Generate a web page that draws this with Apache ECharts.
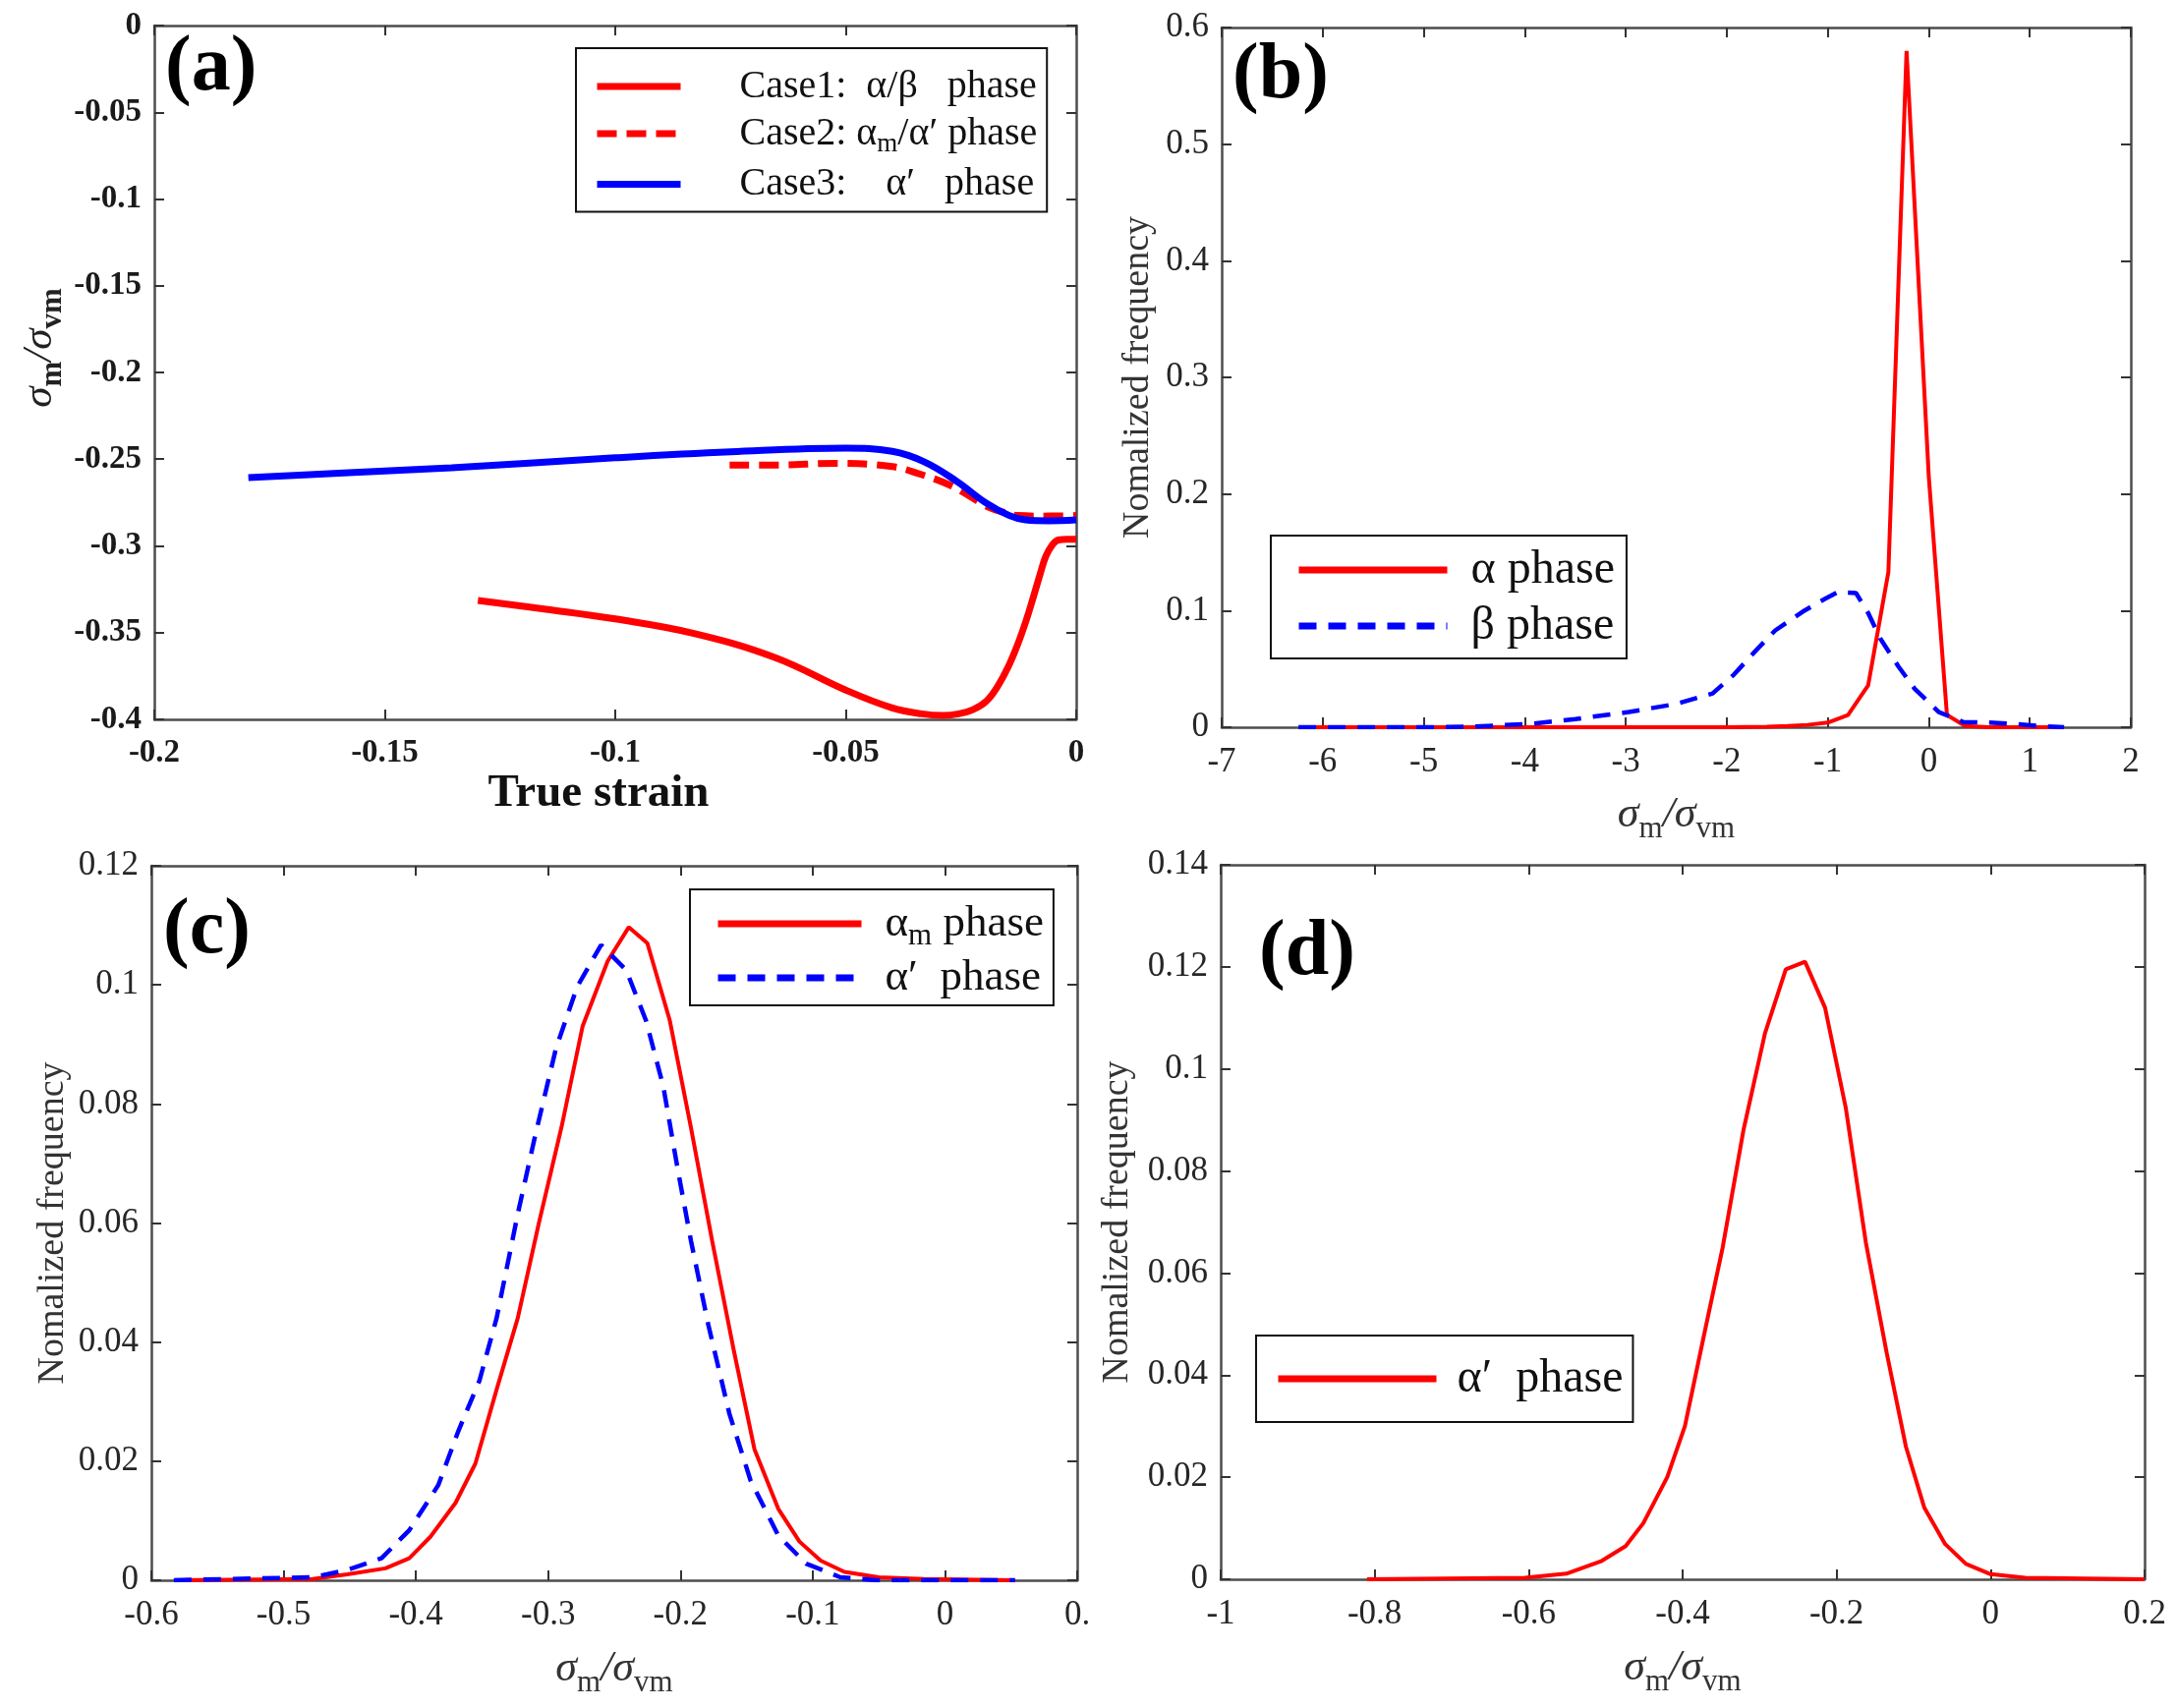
<!DOCTYPE html>
<html>
<head>
<meta charset="utf-8">
<script src="https://cdn.jsdelivr.net/npm/echarts@6/dist/echarts.min.js"></script>
<style>
  html, body { margin: 0; padding: 0; background: #fff; }
  #main { width: 2215px; height: 1738px; }
</style>
</head>
<body>
<div id="main"></div>
<script>
// ---- data ----
// (a) stress triaxiality vs true strain
var case1X = [-0.1298, -0.115, -0.1, -0.0829, -0.0654, -0.05, -0.0399, -0.0335, -0.0289, -0.0255, -0.0224, -0.0195, -0.0171, -0.0148, -0.0127, -0.0108, -0.0092, -0.0078, -0.0066, -0.0052, -0.0039, -0.002, 0];
var case1Y = [-0.3314, -0.3365, -0.3421, -0.3505, -0.3643, -0.3831, -0.3934, -0.3968, -0.3977, -0.3968, -0.3944, -0.3895, -0.3812, -0.3700, -0.3568, -0.3425, -0.3286, -0.3160, -0.306, -0.2995, -0.2966, -0.2962, -0.2962];
var case2X = [-0.0752, -0.0654, -0.0522, -0.0399, -0.034, -0.0276, -0.023, -0.0189, -0.0155, -0.0127, -0.008, 0];
var case2Y = [-0.2534, -0.2534, -0.2524, -0.2543, -0.2585, -0.2647, -0.2715, -0.2778, -0.2808, -0.2825, -0.2828, -0.2825];
var case3X = [-0.1796, -0.16, -0.1355, -0.1, -0.075, -0.05, -0.0399, -0.033, -0.0259, -0.0197, -0.0145, -0.011, -0.006, 0];
var case3Y = [-0.2606, -0.2581, -0.2549, -0.2492, -0.2458, -0.2436, -0.2455, -0.2515, -0.2628, -0.275, -0.2825, -0.285, -0.2855, -0.285];

// (b) alpha / beta distributions
var alphaBX = [-6.2, -5, -4, -3, -2, -1.6, -1.4, -1.2, -1.0, -0.8, -0.6, -0.4, -0.22, 0, 0.18, 0.36, 0.6, 0.8, 1.0, 1.3];
var alphaBY = [0, 0, 0, 0, 0, 0.0005, 0.001, 0.002, 0.004, 0.0105, 0.036, 0.133, 0.58, 0.215, 0.0105, 0.001, 0, 0, 0, 0];
var betaBX = [-6.24, -5, -4.5, -3.93, -3.5, -2.97, -2.5, -2.14, -1.93, -1.72, -1.52, -1.25, -1.03, -0.9, -0.72, -0.6, -0.48, -0.3, -0.14, 0.1, 0.34, 0.6, 0.83, 1.1, 1.34];
var betaBY = [0, 0, 0.0005, 0.003, 0.007, 0.013, 0.02, 0.029, 0.045, 0.065, 0.083, 0.099, 0.11, 0.116, 0.115, 0.098, 0.076, 0.052, 0.033, 0.013, 0.0045, 0.004, 0.003, 0.001, 0];

// (c) alpha_m / alpha' distributions
var alphaMX = [-0.583, -0.478, -0.452, -0.423, -0.405, -0.389, -0.370, -0.355, -0.339, -0.323, -0.307, -0.290, -0.274, -0.255, -0.239, -0.225, -0.208, -0.192, -0.176, -0.160, -0.144, -0.126, -0.110, -0.094, -0.076, -0.050, -0.016, 0.053];
var alphaMY = [0, 0.0002, 0.001, 0.002, 0.0037, 0.0073, 0.013, 0.0196, 0.032, 0.044, 0.060, 0.076, 0.093, 0.104, 0.1097, 0.107, 0.094, 0.076, 0.057, 0.039, 0.022, 0.012, 0.0065, 0.0033, 0.0014, 0.0005, 0.0002, 0];
var alphaPCX = [-0.583, -0.478, -0.452, -0.426, -0.405, -0.383, -0.368, -0.352, -0.339, -0.323, -0.310, -0.294, -0.278, -0.260, -0.241, -0.226, -0.213, -0.202, -0.192, -0.179, -0.163, -0.147, -0.126, -0.105, -0.079, -0.052, 0.053];
var alphaPCY = [0, 0.0005, 0.0017, 0.0037, 0.0084, 0.016, 0.025, 0.0335, 0.044, 0.0615, 0.0745, 0.0894, 0.0997, 0.1067, 0.1025, 0.094, 0.083, 0.069, 0.057, 0.043, 0.028, 0.0168, 0.0075, 0.0028, 0.0005, 0, 0];

// (d) alpha' distribution
var alphaPDX = [-0.810, -0.605, -0.551, -0.505, -0.474, -0.451, -0.420, -0.397, -0.372, -0.348, -0.321, -0.293, -0.266, -0.241, -0.215, -0.188, -0.162, -0.135, -0.110, -0.086, -0.059, -0.032, 0.0, 0.045, 0.2];
var alphaPDY = [0, 0.0003, 0.0011, 0.0036, 0.0065, 0.011, 0.020, 0.030, 0.048, 0.065, 0.088, 0.107, 0.1195, 0.121, 0.112, 0.0923, 0.066, 0.0444, 0.026, 0.014, 0.0069, 0.003, 0.001, 0.0003, 0];

function zip(xs, ys) {
    return xs.map(function (x, i) { return [x, ys[i]]; });
}

var FONT = 'Liberation Serif';
var RED = '#ff0000';
var BLUE = '#0000ff';

var grids = [
    { left: 157, top: 26, width: 938, height: 706 },
    { left: 1243, top: 28, width: 925, height: 712 },
    { left: 154, top: 881, width: 942, height: 727 },
    { left: 1242, top: 880, width: 940, height: 727 }
];

var axisLine = { show: true, onZero: false, lineStyle: { color: '#4d4d4d', width: 2.5 } };
var axisTick = { show: true, inside: true, length: 10, lineStyle: { color: '#333', width: 2 } };

var xAxes = [];
var yAxes = [];

function addAxes(g, xr, yr, bold, xName, yName, xGap, yGap, xFmt) {
    var lblStyle = {
        fontFamily: FONT,
        fontSize: bold ? 33 : 35,
        fontWeight: bold ? 'bold' : 'normal',
        color: bold ? '#1a1a1a' : '#262626'
    };
    xAxes.push({
        type: 'value', gridIndex: g, position: 'bottom',
        min: xr[0], max: xr[1], interval: xr[2],
        axisLine: axisLine, axisTick: axisTick, splitLine: { show: false },
        axisLabel: Object.assign({ margin: 18, showMinLabel: true, showMaxLabel: true, formatter: xFmt }, lblStyle),
        name: xName, nameLocation: 'middle', nameGap: xGap,
        nameTextStyle: bold
            ? { fontFamily: FONT, fontSize: 47, fontWeight: 'bold', color: '#111', padding: [0, 34, 0, 0] }
            : {
                fontFamily: FONT, color: '#333',
                rich: {
                    i: { fontFamily: FONT, fontStyle: 'italic', fontSize: 44, color: '#333' },
                    s: { fontFamily: FONT, fontSize: 31, color: '#333', padding: [28, 0, 0, 0] }
                }
            }
    });
    xAxes.push({
        type: 'value', gridIndex: g, position: 'top',
        min: xr[0], max: xr[1], interval: xr[2],
        axisLine: axisLine, axisTick: axisTick, splitLine: { show: false },
        axisLabel: { show: false }
    });
    yAxes.push({
        type: 'value', gridIndex: g, position: 'left',
        min: yr[0], max: yr[1], interval: yr[2],
        axisLine: axisLine, axisTick: axisTick, splitLine: { show: false },
        axisLabel: Object.assign({ margin: 13, showMinLabel: true, showMaxLabel: true }, lblStyle),
        name: yName, nameLocation: 'middle', nameGap: yGap, nameRotate: 90,
        nameTextStyle: bold
            ? {
                fontFamily: FONT, color: '#222', padding: [0, 0, 0, 50],
                rich: {
                    i: { fontFamily: FONT, fontStyle: 'italic', fontSize: 43, color: '#222' },
                    s: { fontFamily: FONT, fontSize: 31, fontWeight: 'bold', color: '#222', padding: [26, 0, 0, 0] }
                }
            }
            : { fontFamily: FONT, fontSize: 38, color: '#333' }
    });
    yAxes.push({
        type: 'value', gridIndex: g, position: 'right',
        min: yr[0], max: yr[1], interval: yr[2],
        axisLine: axisLine, axisTick: axisTick, splitLine: { show: false },
        axisLabel: { show: false }
    });
}

var sigmaName = '{i|σ}{s|m}{i|/σ}{s|vm}';
addAxes(0, [-0.2, 0, 0.05], [-0.4, 0, 0.05], true, 'True strain', sigmaName, 52, 88);
addAxes(1, [-7, 2, 1], [0, 0.6, 0.1], false, sigmaName, 'Nomalized frequency', 60, 66);
addAxes(2, [-0.6, 0.1, 0.1], [0, 0.12, 0.02], false, sigmaName, 'Nomalized frequency', 61, 81,
    function (v) { return Math.abs(v - 0.1) < 1e-9 ? '0.' : v; });
addAxes(3, [-1, 0.2, 0.2], [0, 0.14, 0.02], false, sigmaName, 'Nomalized frequency', 61, 86);

function line(name, g, data, color, width, dashed, smooth) {
    return {
        name: name, type: 'line',
        xAxisIndex: g * 2, yAxisIndex: g * 2,
        data: data, symbol: 'none', smooth: smooth || false,
        lineStyle: { color: color, width: width, type: dashed ? dashed : 'solid' },
        itemStyle: { color: color },
        emphasis: { disabled: true },
        animation: false
    };
}

var series = [
    line('case1', 0, zip(case1X, case1Y), RED, 7, null, 0.4),
    line('case2', 0, zip(case2X, case2Y), RED, 7, [20, 10], 0.4),
    line('case3', 0, zip(case3X, case3Y), BLUE, 7, null, 0.4),
    line('alphaB', 1, zip(alphaBX, alphaBY), RED, 4),
    line('betaB', 1, zip(betaBX, betaBY), BLUE, 4.5, [18, 12]),
    line('alphaM', 2, zip(alphaMX, alphaMY), RED, 4),
    line('alphaPC', 2, zip(alphaPCX, alphaPCY), BLUE, 4.5, [18, 12]),
    line('alphaPD', 3, zip(alphaPDX, alphaPDY), RED, 4)
];

var legendText = {
    case1: 'Case1:  α/β   phase',
    case2: 'Case2: α{s|m}/α′ phase',
    case3: 'Case3:    α′   phase',
    alphaB: 'α phase',
    betaB: 'β phase',
    alphaM: 'α{s|m} phase',
    alphaPC: 'α′  phase',
    alphaPD: 'α′  phase'
};

function legend(names, left, top, itemW, fontSize, lineH, gap, padding, textPad, lw) {
    return {
        data: names, orient: 'vertical', left: left, top: top,
        itemWidth: itemW, itemHeight: 14, itemGap: gap,
        padding: padding,
        borderColor: '#111', borderWidth: 2, backgroundColor: '#fff',
        selectedMode: false,
        itemStyle: { opacity: 0 },
        lineStyle: { width: lw },
        formatter: function (n) { return legendText[n]; },
        textStyle: {
            fontFamily: FONT, fontSize: fontSize, color: '#111', lineHeight: lineH,
            padding: [0, 0, 0, textPad],
            rich: {
                s: { fontFamily: FONT, fontSize: Math.round(fontSize * 0.68), color: '#111', padding: [Math.round(fontSize * 0.55), 0, 0, 0] }
            }
        }
    };
}

var option = {
    backgroundColor: '#fff',
    animation: false,
    textStyle: { fontFamily: FONT },
    grid: grids,
    xAxis: xAxes,
    yAxis: yAxes,
    legend: [
        legend(['case1', 'case2', 'case3'], 586, 49, 85, 40, 42, 6, [18, 10, 7, 18], 55, 7),
        legend(['alphaB', 'betaB'], 1293, 545, 151, 48, 50, 7, [10, 12, 8, 25], 19, 7),
        legend(['alphaM', 'alphaPC'], 702, 905, 146, 45, 46, 4, [12, 10, 5, 25], 19, 7),
        legend(['alphaPD'], 1278, 1359, 161, 48, 50, 8, [19, 10, 19, 19], 16, 7)
    ],
    graphic: [
        { type: 'text', left: 168, top: 30, style: { text: '(a)', fontFamily: FONT, fontSize: 80, fontWeight: 'bold', fill: '#000' } },
        { type: 'text', left: 1254, top: 38, style: { text: '(b)', fontFamily: FONT, fontSize: 80, fontWeight: 'bold', fill: '#000' } },
        { type: 'text', left: 166, top: 908, style: { text: '(c)', fontFamily: FONT, fontSize: 80, fontWeight: 'bold', fill: '#000' } },
        { type: 'text', left: 1281, top: 930, style: { text: '(d)', fontFamily: FONT, fontSize: 80, fontWeight: 'bold', fill: '#000' } }
    ],
    series: series
};

var myChart = echarts.init(document.getElementById('main'));
myChart.setOption(option);
</script>
</body>
</html>
